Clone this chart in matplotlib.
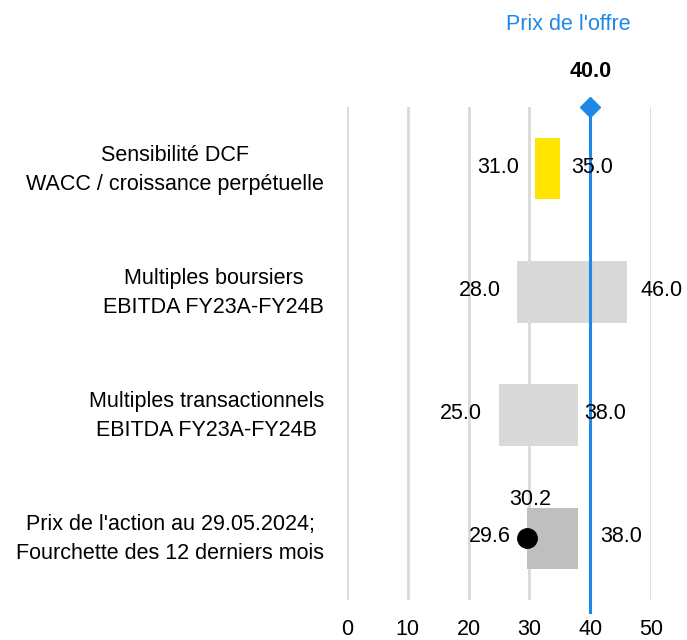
import matplotlib
matplotlib.use("Agg")
import matplotlib.pyplot as plt

plt.rcParams['font.family'] = ['Liberation Sans', 'DejaVu Sans']

categories = ["Sensibilité DCF\nWACC / croissance perpétuelle",
              "Multiples boursiers\nEBITDA FY23A-FY24B",
              "Multiples transactionnels\nEBITDA FY23A-FY24B",
              "Prix de l'action au 29.05.2024;\nFourchette des 12 derniers mois"]
lows = [31.0, 28.0, 25.0, 29.6]
highs = [35.0, 46.0, 38.0, 38.0]
bar_colors = ["#FFE400", "#D9D9D9", "#D9D9D9", "#BFBFBF"]
spot_price = 29.6
spot_label = 30.2
offer_price = 40.0
offer_title = "Prix de l'offre"
xticks = [0, 10, 20, 30, 40, 50]

blue = "#1E88E5"
FS = 15.5
fig = plt.figure(figsize=(6.87, 6.40), dpi=100)
ax = fig.add_axes([347/687, 1-600/640, (651-347)/687, (600-107)/640])
ax.set_xlim(0, 50)
ax.set_ylim(3.5, -0.5)

for x in xticks:
    ax.axvline(x, color="#D9D9D9", lw=2, zorder=0)

ys = list(range(len(categories)))
ax.barh(ys, [h - l for l, h in zip(lows, highs)], left=lows, height=0.5,
        color=bar_colors, zorder=2)

right_off = [11, 14, 6, 22]
for y, l, h, ro in zip(ys, lows, highs, right_off):
    ax.annotate(f"{l:.1f}", (l, y), xytext=(-12, 1), textcoords="offset points",
                ha="right", va="center", fontsize=FS, zorder=5)
    ax.annotate(f"{h:.1f}", (h, y), xytext=(ro * 0.72, 1), textcoords="offset points",
                ha="left", va="center", fontsize=FS, zorder=5)

ax.plot([spot_price], [3], 'o', color="black", ms=14, mec="black", zorder=4)
ax.annotate(f"{spot_label:.1f}", (spot_price, 2.75), xytext=(2, -2), textcoords="offset points",
            ha="center", va="bottom", fontsize=FS, zorder=5)

ax.plot([offer_price, offer_price], [-0.5, 3.6], color=blue, lw=2.2, zorder=3, clip_on=False)
ax.plot([offer_price], [-0.5], 'D', color=blue, ms=10, zorder=4, clip_on=False)
ax.annotate(f"{offer_price:.1f}", (offer_price, -0.5), xytext=(0, 18), textcoords="offset points",
            ha="center", va="bottom", fontsize=FS, fontweight="bold", annotation_clip=False)
ax.annotate(offer_title, (offer_price, -0.5), xytext=(-16, 52), textcoords="offset points",
            ha="center", va="bottom", fontsize=FS, color=blue, annotation_clip=False)

for y, c in zip(ys, categories):
    ax.text(324/687, 1 - (170 + 123*y)/640, c, transform=fig.transFigure,
            ha="right", va="center", fontsize=FS, multialignment="center", linespacing=1.45)

ax.set_xticks(xticks)
ax.set_yticks([])
ax.tick_params(axis="x", length=0, labelsize=FS, pad=14)
for s in ax.spines.values():
    s.set_visible(False)

fig.savefig("out.png", dpi=100)
